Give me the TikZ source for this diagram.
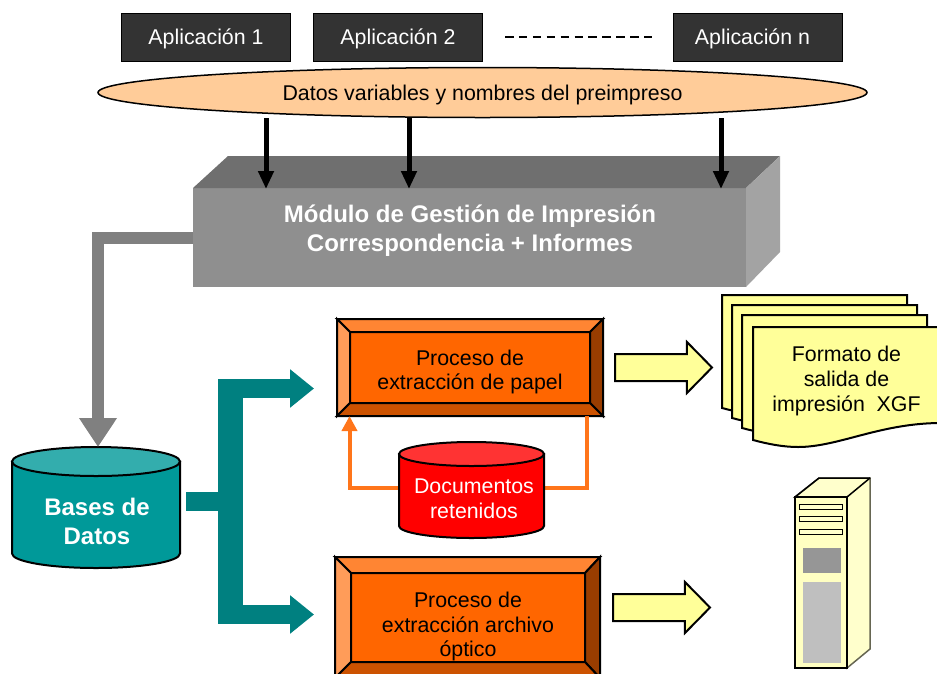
\documentclass[tikz,border=0pt]{standalone}
\usepackage{fontspec}
\setmainfont{Liberation Sans}
\usetikzlibrary{arrows.meta,shapes.geometric,shapes.arrows}
\definecolor{oscuro}{HTML}{333333}
\definecolor{crema}{HTML}{FFCC99}
\definecolor{gristop}{HTML}{6F6F6F}
\definecolor{grisfront}{HTML}{8F8F8F}
\definecolor{grislado}{HTML}{A3A3A3}
\definecolor{grisflecha}{HTML}{808080}
\definecolor{verde}{HTML}{008080}
\definecolor{verdedb}{HTML}{009999}
\definecolor{verdetop}{HTML}{33ADAD}
\definecolor{naranja}{HTML}{FF6600}
\definecolor{naranjaline}{HTML}{FF751A}
\definecolor{amarillo}{HTML}{FFFF99}
\definecolor{marfil}{HTML}{FFFFCC}
% bevel faces round a process box: #1 outer node, #2 inner node
\newcommand{\bisel}[2]{
\filldraw[cara,fill=naranja!80!white] (#1.north west) -- (#1.north east) -- (#2.north east) -- (#2.north west) -- cycle;%top
\filldraw[cara,fill=naranja!65!white] (#1.north west) -- (#1.south west) -- (#2.south west) -- (#2.north west) -- cycle;%left
\filldraw[cara,fill=naranja!60!black] (#1.north east) -- (#1.south east) -- (#2.south east) -- (#2.north east) -- cycle;%right
\filldraw[cara,fill=naranja!80!black] (#1.south west) -- (#1.south east) -- (#2.south east) -- (#2.south west) -- cycle;%bottom
}
% cylinder over a plain node: #1 node, #2 x radius, #3 y radius, #4 body, #5 top
\newcommand{\cilindro}[5]{
\filldraw[cara,fill=#4] ([yshift=-#3pt]#1.north west) -- ([yshift=#3pt]#1.south west) arc[start angle=180,end angle=360,x radius=#2pt,y radius=#3pt] -- ([yshift=-#3pt]#1.north east) -- cycle;
\filldraw[cara,fill=#5] ([yshift=-#3pt]#1.north) circle[x radius=#2pt,y radius=#3pt];
}
\begin{document}
\begin{tikzpicture}[x=1pt,y=-1pt,inner sep=0pt,outer sep=0pt,
texto/.style={font=\fontsize{21.35}{24.7}\selectfont,align=center},
negrita/.style={font=\fontsize{24}{29}\selectfont\bfseries,align=center,text=white},
app node/.style={rectangle,draw=black,line width=1.5pt,fill=oscuro,minimum width=169pt,minimum height=48pt,texto,text=white,text height=16pt,text depth=2pt},
marco/.style={rectangle,draw=black,line width=2pt},
cara/.style={draw=black,line width=2pt,line join=miter},
flecha node/.style={single arrow,anchor=tail,draw=black,line width=2pt,fill=amarillo,minimum height=97pt,minimum width=49pt,inner ysep=12.5pt,single arrow head extend=12pt,single arrow tip angle=91},
hoja/.style={draw=black,line width=2pt,fill=amarillo},
negra/.style={draw=black,line width=5pt,-{Triangle[length=18pt,width=15pt]}},
gruesa/.style={draw=grisflecha,line width=12pt,-{Triangle[length=29pt,width=36pt]}},
brazo/.style={draw=verde,line width=19pt},
retorno/.style={draw=naranjaline,line width=4pt}]
\useasboundingbox (0,0) rectangle (937,673);
\clip (0,0) rectangle (937,673);
%apps
\node[app node] (app1) at (206,37.5) {Aplicación 1};
\node[app node] (app2) at (398,37.5) {Aplicación 2};
\node[app node] (appn) at (758,37.5) {Aplicación n\hspace*{11pt}};
\coordinate (p1) at (505,37);
\coordinate (p2) at (652,37);
\draw[line width=1.5pt,dash pattern=on 8.5pt off 5.4pt] (p1) -- (p2);
\node[ellipse,draw=black,line width=1.5pt,fill=crema,minimum width=769pt,minimum height=50pt,texto,text height=18pt,text depth=2pt] (datos) at (482.5,92.5) {Datos variables y nombres del preimpreso};
%block, gray arrow leaves from its side
\node[rectangle,fill=grisfront,minimum width=553pt,minimum height=99pt] (modulo) at (469.5,237.5) {};
\coordinate (m0) at (193,237.5);
\fill[gristop] (modulo.north west) -- ++(35,-32) -- ++(552,0) -- (modulo.north east) -- cycle;
\fill[grislado] (modulo.north east) -- ++(34,-32) -- ++(0,96) -- (modulo.south east) -- cycle;
\node[negrita] (modulotxt) at (470,230.5) {Módulo de Gestión de Impresión\\Correspondencia + Informes};
%black arrows
\foreach \i/\x in {1/266,2/409,3/721}{
\coordinate (d\i) at (\x,118);
\coordinate (m\i) at (\x,189);
\draw[negra] (d\i) -- (m\i);
}
%data base
\node[rectangle,minimum width=168pt,minimum height=121pt] (bases) at (96,507.5) {};
\cilindro{bases}{84}{14.5}{verdedb}{verdetop}
\node[negrita] (basestxt) at (97,521.5) {Bases de\\Datos};
\coordinate (g1) at (98,447);
\draw[gruesa] (m0) -| (g1);
%teal arrows
\coordinate (b0) at (186,501.5);
\coordinate (b1) at (224,501.5);
\coordinate (t0) at (218,388.5);
\coordinate (t1) at (314,388.5);
\coordinate (s0) at (218,614.5);
\coordinate (s1) at (314,614.5);
\coordinate (v0) at (230.5,379);
\coordinate (v1) at (230.5,624);
\draw[brazo] (b0) -- (b1);
\draw[draw=verde,line width=25pt] (v0) -- (v1);
\draw[brazo,-{Triangle[length=24pt,width=37pt]}] (t0) -- (t1);
\draw[brazo,-{Triangle[length=24pt,width=37pt]}] (s0) -- (s1);
%process boxes
\node[marco,minimum width=266pt,minimum height=97pt] (papel) at (470,367.5) {};
\node[marco,fill=naranja,minimum width=240pt,minimum height=71pt] (papelin) at (470,367.5) {};
\bisel{papel}{papelin}
\node[texto] (papeltxt) at (470,372) {Proceso de\\extracción de papel};
\node[marco,minimum width=265pt,minimum height=121pt] (optico) at (467.5,617.5) {};
\node[marco,fill=naranja,minimum width=234pt,minimum height=89pt] (opticoin) at (468,617.5) {};
\bisel{optico}{opticoin}
\node[texto] (opticotxt) at (468,626.5) {Proceso de\\extracción archivo\\óptico};
%retained documents
\coordinate (r0) at (587,416);
\coordinate (r1) at (349.5,416);
\node[rectangle,minimum width=145pt,minimum height=96pt] (docs) at (471.5,490) {};
\draw[retorno] (docs.east |- 0,488) -| (r0);
\draw[retorno,-{Triangle[length=15pt,width=15pt]}] (docs.west |- 0,488) -| (r1);
\cilindro{docs}{72.5}{12}{red}{red!80!white}
\node[texto,text=white] (docstxt) at (474,498.5) {Documentos\\retenidos};
%block arrows
\node[flecha node] (f1) at (615,367.5) {};
\node[flecha node] (f2) at (613,607.5) {};
%sheets
\foreach \x/\y in {722/295,732/305,742/315,753/327}{
\filldraw[hoja] (\x,\y) -- ++(185,0) -- ++(0,96) .. controls (\x+125,\y+97) and (\x+85,\y+120) .. (\x+45,\y+120) .. controls (\x+30,\y+120) and (\x+15,\y+117) .. (\x,\y+113) -- cycle;
}
\node[texto] (formato) at (846.5,381) {Formato de\\salida de\\impresión\ \ XGF};
%server
\filldraw[draw=black!60!marfil,line width=1.5pt,fill=marfil] (795,497) -- (819,478) -- (870,478) -- (870,649) -- (847,668) -- (847,497) -- cycle;
\draw[draw=black,line width=1.5pt] (795,497) -- (819,478) -- (870,478);
\draw[draw=black,line width=1.5pt] (847,497) -- (870,478);
\node[rectangle,draw=black,line width=1.5pt,fill=amarillo!60!white,minimum width=52pt,minimum height=171pt] (torre) at (821,582.5) {};
\foreach \y in {506.5,519,531.5}{
\filldraw[draw=black,line width=1pt,fill=marfil] (799,\y-2.5) rectangle (842,\y+2.5);
}
\fill[black!41] (803,548) rectangle (841,573);
\fill[black!25] (803,582) rectangle (841,663);
\end{tikzpicture}
\end{document}
